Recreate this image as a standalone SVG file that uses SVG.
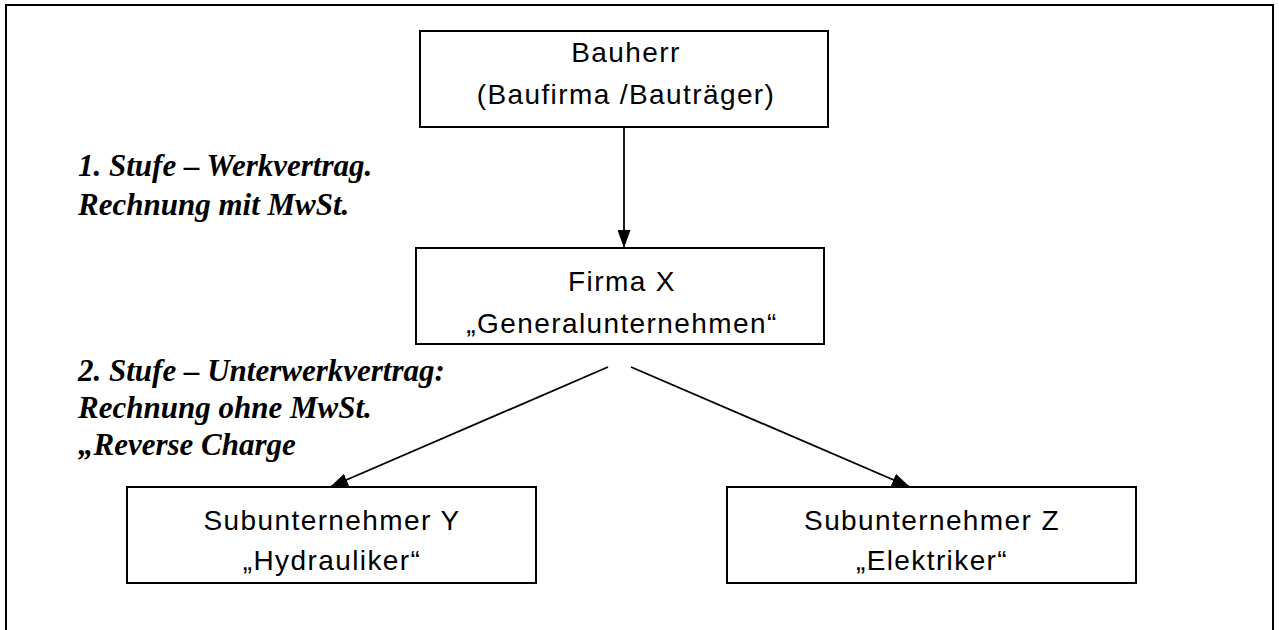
<svg xmlns="http://www.w3.org/2000/svg" width="1279" height="630" viewBox="0 0 1279 630">
<style>
.box{fill:#fff;stroke:#000;stroke-width:2}
.t{font-family:"Liberation Sans",Arial,sans-serif;font-size:28px;letter-spacing:1.4px;fill:#000;text-anchor:middle}
.lab{font-family:"Liberation Serif","Times New Roman",serif;font-size:31px;font-weight:bold;font-style:italic;fill:#000}
.con{stroke:#000;stroke-width:1.8;fill:none}
</style>
<defs>
<marker id="ah" markerUnits="userSpaceOnUse" markerWidth="18" markerHeight="13" refX="18" refY="6.5" orient="auto">
<path d="M0,0 L18,6.5 L0,13 z" fill="#000"/>
</marker>
</defs>
<rect x="6" y="5" width="1267" height="700" fill="#fff" stroke="#000" stroke-width="2"/>
<g id="connectors">
<line class="con" x1="624" y1="127" x2="624" y2="248" marker-end="url(#ah)"/>
<line class="con" x1="608" y1="367" x2="330" y2="487" marker-end="url(#ah)"/>
<line class="con" x1="631" y1="367" x2="910" y2="487" marker-end="url(#ah)"/>
</g>
<g id="bauherr">
<rect class="box" x="420" y="31" width="408" height="96"/>
<text class="t" x="626" y="62">Bauherr</text>
<text class="t" x="626" y="104">(Baufirma /Bauträger)</text>
</g>
<g id="firma-x">
<rect class="box" x="416" y="248" width="408" height="96"/>
<text class="t" x="622" y="291">Firma X</text>
<text class="t" x="622" y="333">„Generalunternehmen“</text>
</g>
<g id="sub-y">
<rect class="box" x="127" y="487" width="409" height="96"/>
<text class="t" x="332" y="530">Subunternehmer Y</text>
<text class="t" x="332" y="570">„Hydrauliker“</text>
</g>
<g id="sub-z">
<rect class="box" x="727" y="487" width="409" height="96"/>
<text class="t" x="932" y="530">Subunternehmer Z</text>
<text class="t" x="932" y="570">„Elektriker“</text>
</g>
<g id="labels">
<text class="lab" x="78" y="176">1. Stufe – Werkvertrag.</text>
<text class="lab" x="78" y="215">Rechnung mit MwSt.</text>
<text class="lab" x="78" y="381">2. Stufe – Unterwerkvertrag:</text>
<text class="lab" x="78" y="418">Rechnung ohne MwSt.</text>
<text class="lab" x="78" y="455">„Reverse Charge</text>
</g>
</svg>
